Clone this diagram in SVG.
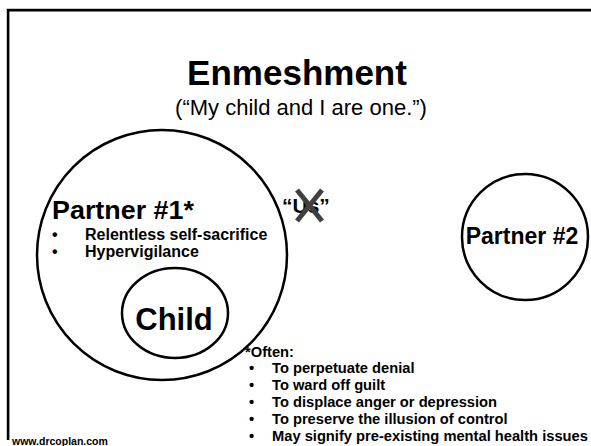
<svg xmlns="http://www.w3.org/2000/svg" width="591" height="446" viewBox="0 0 591 446">
  <style>
    text { font-family: "Liberation Sans", Arial, sans-serif; fill: #000; }
    .b { font-weight: bold; }
    .ring { fill: none; stroke: #000; stroke-width: 2.5; }
  </style>
  <rect width="591" height="446" fill="#fff"/>
  <!-- slide frame -->
  <g id="frame" fill="none">
    <path d="M6.5,440 V8.5 H591" stroke="#c8c8c8" stroke-width="1"/>
    <path d="M8.2,440 V10.3 H591" stroke="#000" stroke-width="2.4"/>
  </g>

  <g id="title">
    <text class="b" x="297" y="85" font-size="35" text-anchor="middle">Enmeshment</text>
    <text x="301" y="115" font-size="22" text-anchor="middle">(“My child and I are one.”)</text>
  </g>

  <g id="partner1">
    <circle class="ring" cx="162" cy="255" r="125"/>
    <text class="b" x="52" y="219" font-size="25" textLength="142" lengthAdjust="spacingAndGlyphs">Partner #1*</text>
    <text class="b" font-size="16">
      <tspan x="52" y="240">•</tspan><tspan x="85" y="240">Relentless self-sacrifice</tspan>
      <tspan x="52" y="257">•</tspan><tspan x="85" y="257">Hypervigilance</tspan>
    </text>
  </g>

  <g id="child">
    <ellipse class="ring" cx="175" cy="313" rx="53" ry="45" stroke-width="2"/>
    <text class="b" x="174" y="330" font-size="31" text-anchor="middle">Child</text>
  </g>

  <g id="us">
    <text class="b" x="282" y="213" font-size="21">“Us”</text>
    <g stroke="#404040" stroke-width="5" stroke-linecap="butt">
      <line x1="297" y1="190" x2="322" y2="221"/>
      <line x1="322" y1="190" x2="297" y2="221"/>
    </g>
  </g>

  <g id="partner2">
    <circle class="ring" cx="525" cy="237" r="63"/>
    <text class="b" x="522" y="244" font-size="23" text-anchor="middle">Partner #2</text>
  </g>

  <g id="notes">
    <text class="b" x="245" y="357" font-size="14.7">*Often:</text>
    <text class="b" font-size="14.7">
      <tspan x="249" y="373">•</tspan><tspan x="272" y="373">To perpetuate denial</tspan>
      <tspan x="249" y="390">•</tspan><tspan x="272" y="390">To ward off guilt</tspan>
      <tspan x="249" y="407">•</tspan><tspan x="272" y="407">To displace anger or depression</tspan>
      <tspan x="249" y="424">•</tspan><tspan x="272" y="424">To preserve the illusion of control</tspan>
      <tspan x="249" y="441">•</tspan><tspan x="272" y="441">May signify pre-existing mental health issues</tspan>
    </text>
  </g>

  <text class="b" x="12" y="445" font-size="10.5">www.drcoplan.com</text>
</svg>
